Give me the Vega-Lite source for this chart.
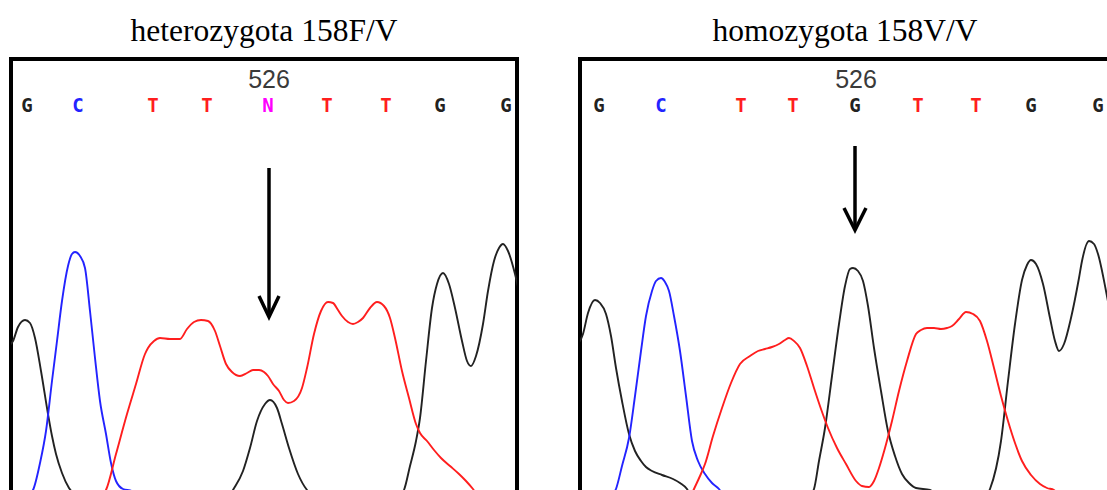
{
  "$schema": "https://vega.github.io/schema/vega-lite/v6.json",
  "background": "white",
  "padding": {"left": 9, "top": 13, "right": 0, "bottom": 0},
  "config": {
    "view": {"stroke": "#000000", "strokeWidth": 4},
    "title": {"font": "Liberation Serif", "fontSize": 31.5, "fontWeight": "normal", "color": "#000000", "anchor": "middle", "baseline": "alphabetic", "offset": 12}
  },
  "datasets": {
    "hetTraces": [
      {"trace": "G", "base": "G", "x": -3, "y": 150}, {"trace": "G", "base": "G", "x": 2, "y": 155}, {"trace": "G", "base": "G", "x": 7, "y": 169}, {"trace": "G", "base": "G", "x": 14, "y": 176}, {"trace": "G", "base": "G", "x": 19, "y": 173}, {"trace": "G", "base": "G", "x": 24, "y": 158}, {"trace": "G", "base": "G", "x": 30, "y": 125}, {"trace": "G", "base": "G", "x": 37, "y": 82}, {"trace": "G", "base": "G", "x": 41, "y": 60}, {"trace": "G", "base": "G", "x": 45, "y": 42}, {"trace": "G", "base": "G", "x": 51, "y": 23}, {"trace": "G", "base": "G", "x": 58, "y": 8}, {"trace": "G", "base": "G", "x": 64, "y": 1}, {"trace": "G", "base": "G", "x": 69, "y": -2},
      {"trace": "G", "base": "G", "x": 214, "y": -2}, {"trace": "G", "base": "G", "x": 219, "y": 1}, {"trace": "G", "base": "G", "x": 222, "y": 6}, {"trace": "G", "base": "G", "x": 232, "y": 25}, {"trace": "G", "base": "G", "x": 239, "y": 48}, {"trace": "G", "base": "G", "x": 246, "y": 75}, {"trace": "G", "base": "G", "x": 254, "y": 92}, {"trace": "G", "base": "G", "x": 259, "y": 96}, {"trace": "G", "base": "G", "x": 266, "y": 88}, {"trace": "G", "base": "G", "x": 271, "y": 72}, {"trace": "G", "base": "G", "x": 278, "y": 48}, {"trace": "G", "base": "G", "x": 287, "y": 22}, {"trace": "G", "base": "G", "x": 296, "y": 6}, {"trace": "G", "base": "G", "x": 301, "y": 1}, {"trace": "G", "base": "G", "x": 307, "y": -2},
      {"trace": "G", "base": "G", "x": 385, "y": -2}, {"trace": "G", "base": "G", "x": 389, "y": 1}, {"trace": "G", "base": "G", "x": 393, "y": 6}, {"trace": "G", "base": "G", "x": 399, "y": 30}, {"trace": "G", "base": "G", "x": 405, "y": 55}, {"trace": "G", "base": "G", "x": 409, "y": 78}, {"trace": "G", "base": "G", "x": 415, "y": 135}, {"trace": "G", "base": "G", "x": 421, "y": 188}, {"trace": "G", "base": "G", "x": 426, "y": 212}, {"trace": "G", "base": "G", "x": 432, "y": 223}, {"trace": "G", "base": "G", "x": 438, "y": 212}, {"trace": "G", "base": "G", "x": 444, "y": 188}, {"trace": "G", "base": "G", "x": 451, "y": 155}, {"trace": "G", "base": "G", "x": 456, "y": 135}, {"trace": "G", "base": "G", "x": 460, "y": 130}, {"trace": "G", "base": "G", "x": 465, "y": 140}, {"trace": "G", "base": "G", "x": 472, "y": 172}, {"trace": "G", "base": "G", "x": 477, "y": 205}, {"trace": "G", "base": "G", "x": 483, "y": 235}, {"trace": "G", "base": "G", "x": 488, "y": 248}, {"trace": "G", "base": "G", "x": 492, "y": 252}, {"trace": "G", "base": "G", "x": 497, "y": 245}, {"trace": "G", "base": "G", "x": 504, "y": 222}, {"trace": "G", "base": "G", "x": 509, "y": 200},
      {"trace": "C", "base": "C", "x": 14, "y": -2}, {"trace": "C", "base": "C", "x": 22, "y": 6}, {"trace": "C", "base": "C", "x": 29, "y": 33}, {"trace": "C", "base": "C", "x": 35, "y": 65}, {"trace": "C", "base": "C", "x": 41, "y": 115}, {"trace": "C", "base": "C", "x": 46, "y": 155}, {"trace": "C", "base": "C", "x": 51, "y": 195}, {"trace": "C", "base": "C", "x": 57, "y": 230}, {"trace": "C", "base": "C", "x": 61, "y": 242}, {"trace": "C", "base": "C", "x": 64, "y": 244}, {"trace": "C", "base": "C", "x": 69, "y": 240}, {"trace": "C", "base": "C", "x": 74, "y": 228}, {"trace": "C", "base": "C", "x": 79, "y": 185}, {"trace": "C", "base": "C", "x": 84, "y": 138}, {"trace": "C", "base": "C", "x": 89, "y": 95}, {"trace": "C", "base": "C", "x": 95, "y": 62}, {"trace": "C", "base": "C", "x": 100, "y": 33}, {"trace": "C", "base": "C", "x": 105, "y": 15}, {"trace": "C", "base": "C", "x": 112, "y": 7}, {"trace": "C", "base": "C", "x": 121, "y": 5}, {"trace": "C", "base": "C", "x": 129, "y": -2},
      {"trace": "T", "base": "T", "x": 89, "y": -2}, {"trace": "T", "base": "T", "x": 95, "y": 6}, {"trace": "T", "base": "T", "x": 105, "y": 42}, {"trace": "T", "base": "T", "x": 116, "y": 82}, {"trace": "T", "base": "T", "x": 125, "y": 112}, {"trace": "T", "base": "T", "x": 134, "y": 142}, {"trace": "T", "base": "T", "x": 137, "y": 148}, {"trace": "T", "base": "T", "x": 143, "y": 155}, {"trace": "T", "base": "T", "x": 149, "y": 158}, {"trace": "T", "base": "T", "x": 159, "y": 157}, {"trace": "T", "base": "T", "x": 169, "y": 157}, {"trace": "T", "base": "T", "x": 176, "y": 167}, {"trace": "T", "base": "T", "x": 183, "y": 174}, {"trace": "T", "base": "T", "x": 190, "y": 176}, {"trace": "T", "base": "T", "x": 197, "y": 175}, {"trace": "T", "base": "T", "x": 204, "y": 165}, {"trace": "T", "base": "T", "x": 209, "y": 150}, {"trace": "T", "base": "T", "x": 215, "y": 132}, {"trace": "T", "base": "T", "x": 221, "y": 124}, {"trace": "T", "base": "T", "x": 229, "y": 120}, {"trace": "T", "base": "T", "x": 236, "y": 123}, {"trace": "T", "base": "T", "x": 242, "y": 126}, {"trace": "T", "base": "T", "x": 248, "y": 126}, {"trace": "T", "base": "T", "x": 253, "y": 124}, {"trace": "T", "base": "T", "x": 257, "y": 120}, {"trace": "T", "base": "T", "x": 262, "y": 112}, {"trace": "T", "base": "T", "x": 268, "y": 105}, {"trace": "T", "base": "T", "x": 273, "y": 96}, {"trace": "T", "base": "T", "x": 277, "y": 93}, {"trace": "T", "base": "T", "x": 283, "y": 95}, {"trace": "T", "base": "T", "x": 291, "y": 108}, {"trace": "T", "base": "T", "x": 296, "y": 128}, {"trace": "T", "base": "T", "x": 303, "y": 162}, {"trace": "T", "base": "T", "x": 310, "y": 185}, {"trace": "T", "base": "T", "x": 317, "y": 194}, {"trace": "T", "base": "T", "x": 322, "y": 193}, {"trace": "T", "base": "T", "x": 327, "y": 186}, {"trace": "T", "base": "T", "x": 331, "y": 180}, {"trace": "T", "base": "T", "x": 337, "y": 174}, {"trace": "T", "base": "T", "x": 342, "y": 172}, {"trace": "T", "base": "T", "x": 347, "y": 174}, {"trace": "T", "base": "T", "x": 352, "y": 178}, {"trace": "T", "base": "T", "x": 359, "y": 188}, {"trace": "T", "base": "T", "x": 366, "y": 194}, {"trace": "T", "base": "T", "x": 373, "y": 190}, {"trace": "T", "base": "T", "x": 379, "y": 178}, {"trace": "T", "base": "T", "x": 384, "y": 158}, {"trace": "T", "base": "T", "x": 391, "y": 125}, {"trace": "T", "base": "T", "x": 398, "y": 98}, {"trace": "T", "base": "T", "x": 405, "y": 72}, {"trace": "T", "base": "T", "x": 409, "y": 63}, {"trace": "T", "base": "T", "x": 416, "y": 55}, {"trace": "T", "base": "T", "x": 423, "y": 46}, {"trace": "T", "base": "T", "x": 430, "y": 38}, {"trace": "T", "base": "T", "x": 439, "y": 30}, {"trace": "T", "base": "T", "x": 448, "y": 22}, {"trace": "T", "base": "T", "x": 455, "y": 15}, {"trace": "T", "base": "T", "x": 462, "y": 7}, {"trace": "T", "base": "T", "x": 469, "y": -2}, {"trace": "T", "base": "T", "x": 509, "y": -2}
    ],
    "homTraces": [
      {"trace": "G", "base": "G", "x": -4, "y": 150}, {"trace": "G", "base": "G", "x": 3, "y": 162}, {"trace": "G", "base": "G", "x": 8, "y": 183}, {"trace": "G", "base": "G", "x": 15, "y": 196}, {"trace": "G", "base": "G", "x": 20, "y": 193}, {"trace": "G", "base": "G", "x": 26, "y": 182}, {"trace": "G", "base": "G", "x": 31, "y": 160}, {"trace": "G", "base": "G", "x": 36, "y": 128}, {"trace": "G", "base": "G", "x": 42, "y": 95}, {"trace": "G", "base": "G", "x": 49, "y": 62}, {"trace": "G", "base": "G", "x": 55, "y": 45}, {"trace": "G", "base": "G", "x": 61, "y": 35}, {"trace": "G", "base": "G", "x": 66, "y": 29}, {"trace": "G", "base": "G", "x": 72, "y": 25}, {"trace": "G", "base": "G", "x": 82, "y": 21}, {"trace": "G", "base": "G", "x": 93, "y": 17}, {"trace": "G", "base": "G", "x": 100, "y": 13}, {"trace": "G", "base": "G", "x": 107, "y": 7}, {"trace": "G", "base": "G", "x": 112, "y": -2},
      {"trace": "G", "base": "G", "x": 228, "y": -2}, {"trace": "G", "base": "G", "x": 234, "y": 7}, {"trace": "G", "base": "G", "x": 239, "y": 35}, {"trace": "G", "base": "G", "x": 245, "y": 68}, {"trace": "G", "base": "G", "x": 252, "y": 120}, {"trace": "G", "base": "G", "x": 259, "y": 172}, {"trace": "G", "base": "G", "x": 265, "y": 210}, {"trace": "G", "base": "G", "x": 270, "y": 227}, {"trace": "G", "base": "G", "x": 273, "y": 228}, {"trace": "G", "base": "G", "x": 278, "y": 225}, {"trace": "G", "base": "G", "x": 283, "y": 215}, {"trace": "G", "base": "G", "x": 288, "y": 190}, {"trace": "G", "base": "G", "x": 294, "y": 148}, {"trace": "G", "base": "G", "x": 301, "y": 105}, {"trace": "G", "base": "G", "x": 308, "y": 65}, {"trace": "G", "base": "G", "x": 315, "y": 40}, {"trace": "G", "base": "G", "x": 322, "y": 22}, {"trace": "G", "base": "G", "x": 329, "y": 13}, {"trace": "G", "base": "G", "x": 336, "y": 8}, {"trace": "G", "base": "G", "x": 350, "y": 6}, {"trace": "G", "base": "G", "x": 360, "y": -2},
      {"trace": "G", "base": "G", "x": 405, "y": -2}, {"trace": "G", "base": "G", "x": 410, "y": 7}, {"trace": "G", "base": "G", "x": 421, "y": 55}, {"trace": "G", "base": "G", "x": 428, "y": 115}, {"trace": "G", "base": "G", "x": 435, "y": 172}, {"trace": "G", "base": "G", "x": 442, "y": 216}, {"trace": "G", "base": "G", "x": 447, "y": 231}, {"trace": "G", "base": "G", "x": 451, "y": 236}, {"trace": "G", "base": "G", "x": 456, "y": 232}, {"trace": "G", "base": "G", "x": 463, "y": 212}, {"trace": "G", "base": "G", "x": 470, "y": 178}, {"trace": "G", "base": "G", "x": 475, "y": 155}, {"trace": "G", "base": "G", "x": 479, "y": 145}, {"trace": "G", "base": "G", "x": 484, "y": 152}, {"trace": "G", "base": "G", "x": 491, "y": 178}, {"trace": "G", "base": "G", "x": 499, "y": 218}, {"trace": "G", "base": "G", "x": 502, "y": 235}, {"trace": "G", "base": "G", "x": 509, "y": 255}, {"trace": "G", "base": "G", "x": 514, "y": 252}, {"trace": "G", "base": "G", "x": 518, "y": 242}, {"trace": "G", "base": "G", "x": 526, "y": 205}, {"trace": "G", "base": "G", "x": 535, "y": 155},
      {"trace": "C", "base": "C", "x": 30, "y": -2}, {"trace": "C", "base": "C", "x": 36, "y": 7}, {"trace": "C", "base": "C", "x": 42, "y": 30}, {"trace": "C", "base": "C", "x": 49, "y": 58}, {"trace": "C", "base": "C", "x": 55, "y": 100}, {"trace": "C", "base": "C", "x": 61, "y": 145}, {"trace": "C", "base": "C", "x": 66, "y": 180}, {"trace": "C", "base": "C", "x": 72, "y": 205}, {"trace": "C", "base": "C", "x": 76, "y": 215}, {"trace": "C", "base": "C", "x": 81, "y": 218}, {"trace": "C", "base": "C", "x": 85, "y": 214}, {"trace": "C", "base": "C", "x": 89, "y": 205}, {"trace": "C", "base": "C", "x": 94, "y": 180}, {"trace": "C", "base": "C", "x": 100, "y": 145}, {"trace": "C", "base": "C", "x": 106, "y": 100}, {"trace": "C", "base": "C", "x": 112, "y": 55}, {"trace": "C", "base": "C", "x": 118, "y": 35}, {"trace": "C", "base": "C", "x": 125, "y": 22}, {"trace": "C", "base": "C", "x": 132, "y": 13}, {"trace": "C", "base": "C", "x": 139, "y": 7}, {"trace": "C", "base": "C", "x": 145, "y": -2},
      {"trace": "T", "base": "T", "x": 110, "y": -2}, {"trace": "T", "base": "T", "x": 114, "y": 7}, {"trace": "T", "base": "T", "x": 120, "y": 20}, {"trace": "T", "base": "T", "x": 125, "y": 32}, {"trace": "T", "base": "T", "x": 133, "y": 60}, {"trace": "T", "base": "T", "x": 142, "y": 88}, {"trace": "T", "base": "T", "x": 151, "y": 113}, {"trace": "T", "base": "T", "x": 160, "y": 132}, {"trace": "T", "base": "T", "x": 170, "y": 140}, {"trace": "T", "base": "T", "x": 178, "y": 145}, {"trace": "T", "base": "T", "x": 185, "y": 147}, {"trace": "T", "base": "T", "x": 192, "y": 149}, {"trace": "T", "base": "T", "x": 199, "y": 152}, {"trace": "T", "base": "T", "x": 205, "y": 156}, {"trace": "T", "base": "T", "x": 209, "y": 158}, {"trace": "T", "base": "T", "x": 214, "y": 155}, {"trace": "T", "base": "T", "x": 220, "y": 148}, {"trace": "T", "base": "T", "x": 227, "y": 130}, {"trace": "T", "base": "T", "x": 234, "y": 108}, {"trace": "T", "base": "T", "x": 241, "y": 87}, {"trace": "T", "base": "T", "x": 248, "y": 68}, {"trace": "T", "base": "T", "x": 257, "y": 48}, {"trace": "T", "base": "T", "x": 266, "y": 32}, {"trace": "T", "base": "T", "x": 276, "y": 15}, {"trace": "T", "base": "T", "x": 282, "y": 10}, {"trace": "T", "base": "T", "x": 289, "y": 9}, {"trace": "T", "base": "T", "x": 294, "y": 15}, {"trace": "T", "base": "T", "x": 299, "y": 28}, {"trace": "T", "base": "T", "x": 305, "y": 48}, {"trace": "T", "base": "T", "x": 312, "y": 75}, {"trace": "T", "base": "T", "x": 319, "y": 105}, {"trace": "T", "base": "T", "x": 327, "y": 135}, {"trace": "T", "base": "T", "x": 336, "y": 162}, {"trace": "T", "base": "T", "x": 341, "y": 166}, {"trace": "T", "base": "T", "x": 347, "y": 168}, {"trace": "T", "base": "T", "x": 354, "y": 168}, {"trace": "T", "base": "T", "x": 361, "y": 167}, {"trace": "T", "base": "T", "x": 367, "y": 168}, {"trace": "T", "base": "T", "x": 372, "y": 170}, {"trace": "T", "base": "T", "x": 379, "y": 177}, {"trace": "T", "base": "T", "x": 386, "y": 184}, {"trace": "T", "base": "T", "x": 393, "y": 182}, {"trace": "T", "base": "T", "x": 400, "y": 175}, {"trace": "T", "base": "T", "x": 407, "y": 155}, {"trace": "T", "base": "T", "x": 414, "y": 128}, {"trace": "T", "base": "T", "x": 421, "y": 100}, {"trace": "T", "base": "T", "x": 428, "y": 75}, {"trace": "T", "base": "T", "x": 435, "y": 53}, {"trace": "T", "base": "T", "x": 442, "y": 35}, {"trace": "T", "base": "T", "x": 451, "y": 21}, {"trace": "T", "base": "T", "x": 460, "y": 12}, {"trace": "T", "base": "T", "x": 467, "y": 8}, {"trace": "T", "base": "T", "x": 474, "y": 6}, {"trace": "T", "base": "T", "x": 480, "y": -2}
    ],
    "hetCalls": [
      {"x": 16, "y": 390, "base": "G"}, {"x": 67, "y": 390, "base": "C"}, {"x": 142, "y": 390, "base": "T"}, {"x": 196, "y": 390, "base": "T"}, {"x": 257, "y": 390, "base": "N"}, {"x": 316, "y": 390, "base": "T"}, {"x": 375, "y": 390, "base": "T"}, {"x": 429, "y": 390, "base": "G"}, {"x": 495, "y": 390, "base": "G"}
    ],
    "homCalls": [
      {"x": 19, "y": 390, "base": "G"}, {"x": 81, "y": 390, "base": "C"}, {"x": 161, "y": 390, "base": "T"}, {"x": 213, "y": 390, "base": "T"}, {"x": 275, "y": 390, "base": "G"}, {"x": 338, "y": 390, "base": "T"}, {"x": 396, "y": 390, "base": "T"}, {"x": 451, "y": 390, "base": "G"}, {"x": 518, "y": 390, "base": "G"}
    ],
    "hetPosition": [{"x": 258, "y": 416, "label": "526"}],
    "homPosition": [{"x": 276, "y": 416, "label": "526"}],
    "hetArrow": [
      {"part": "shaft", "seq": 1, "x": 258, "y": 328}, {"part": "shaft", "seq": 2, "x": 258, "y": 180},
      {"part": "head", "seq": 1, "x": 248, "y": 200}, {"part": "head", "seq": 2, "x": 258, "y": 179}, {"part": "head", "seq": 3, "x": 268, "y": 200}
    ],
    "homArrow": [
      {"part": "shaft", "seq": 1, "x": 275, "y": 350}, {"part": "shaft", "seq": 2, "x": 275, "y": 267},
      {"part": "head", "seq": 1, "x": 264, "y": 288}, {"part": "head", "seq": 2, "x": 275, "y": 266}, {"part": "head", "seq": 3, "x": 286, "y": 288}
    ]
  },
  "hconcat": [
    {
      "title": "heterozygota 158F/V",
      "width": 506,
      "height": 447,
      "layer": [
        {
          "data": {"name": "hetTraces"},
          "mark": {"type": "line", "clip": true, "strokeWidth": 1.9, "interpolate": "monotone"},
          "encoding": {
            "x": {"field": "x", "type": "quantitative", "scale": {"domain": [0, 506], "nice": false, "zero": false}, "axis": null},
            "y": {"field": "y", "type": "quantitative", "scale": {"domain": [-10, 437], "nice": false, "zero": false}, "axis": null},
            "color": {"field": "base", "type": "nominal", "scale": {"domain": ["G", "C", "T", "N"], "range": ["#222222", "#2323ff", "#ff1e1e", "#ff00ff"]}, "legend": null},
            "detail": {"field": "trace"}
          }
        },
        {
          "data": {"name": "hetCalls"},
          "mark": {"type": "text", "font": "DejaVu Sans Mono", "fontSize": 19, "fontWeight": "bold", "baseline": "middle", "align": "center"},
          "encoding": {
            "x": {"field": "x", "type": "quantitative"},
            "y": {"field": "y", "type": "quantitative"},
            "text": {"field": "base"},
            "color": {"field": "base", "type": "nominal", "legend": null}
          }
        },
        {
          "data": {"name": "hetPosition"},
          "mark": {"type": "text", "font": "Liberation Sans", "fontSize": 25, "baseline": "middle", "align": "center", "color": "#3a3a3a"},
          "encoding": {
            "x": {"field": "x", "type": "quantitative"},
            "y": {"field": "y", "type": "quantitative"},
            "text": {"field": "label"}
          }
        },
        {
          "data": {"name": "hetArrow"},
          "mark": {"type": "line", "color": "#000000", "strokeWidth": 3.5, "strokeCap": "butt"},
          "encoding": {
            "x": {"field": "x", "type": "quantitative"},
            "y": {"field": "y", "type": "quantitative"},
            "detail": {"field": "part"},
            "order": {"field": "seq"}
          }
        }
      ]
    },
    {
      "title": "homozygota 158V/V",
      "width": 530,
      "height": 447,
      "layer": [
        {
          "data": {"name": "homTraces"},
          "mark": {"type": "line", "clip": true, "strokeWidth": 1.9, "interpolate": "monotone"},
          "encoding": {
            "x": {"field": "x", "type": "quantitative", "scale": {"domain": [0, 530], "nice": false, "zero": false}, "axis": null},
            "y": {"field": "y", "type": "quantitative", "scale": {"domain": [-10, 437], "nice": false, "zero": false}, "axis": null},
            "color": {"field": "base", "type": "nominal", "scale": {"domain": ["G", "C", "T", "N"], "range": ["#222222", "#2323ff", "#ff1e1e", "#ff00ff"]}, "legend": null},
            "detail": {"field": "trace"}
          }
        },
        {
          "data": {"name": "homCalls"},
          "mark": {"type": "text", "font": "DejaVu Sans Mono", "fontSize": 19, "fontWeight": "bold", "baseline": "middle", "align": "center"},
          "encoding": {
            "x": {"field": "x", "type": "quantitative"},
            "y": {"field": "y", "type": "quantitative"},
            "text": {"field": "base"},
            "color": {"field": "base", "type": "nominal", "legend": null}
          }
        },
        {
          "data": {"name": "homPosition"},
          "mark": {"type": "text", "font": "Liberation Sans", "fontSize": 25, "baseline": "middle", "align": "center", "color": "#3a3a3a"},
          "encoding": {
            "x": {"field": "x", "type": "quantitative"},
            "y": {"field": "y", "type": "quantitative"},
            "text": {"field": "label"}
          }
        },
        {
          "data": {"name": "homArrow"},
          "mark": {"type": "line", "color": "#000000", "strokeWidth": 3.5, "strokeCap": "butt"},
          "encoding": {
            "x": {"field": "x", "type": "quantitative"},
            "y": {"field": "y", "type": "quantitative"},
            "detail": {"field": "part"},
            "order": {"field": "seq"}
          }
        }
      ]
    }
  ],
  "spacing": 59,
  "resolve": {"scale": {"x": "independent", "y": "independent"}}
}
